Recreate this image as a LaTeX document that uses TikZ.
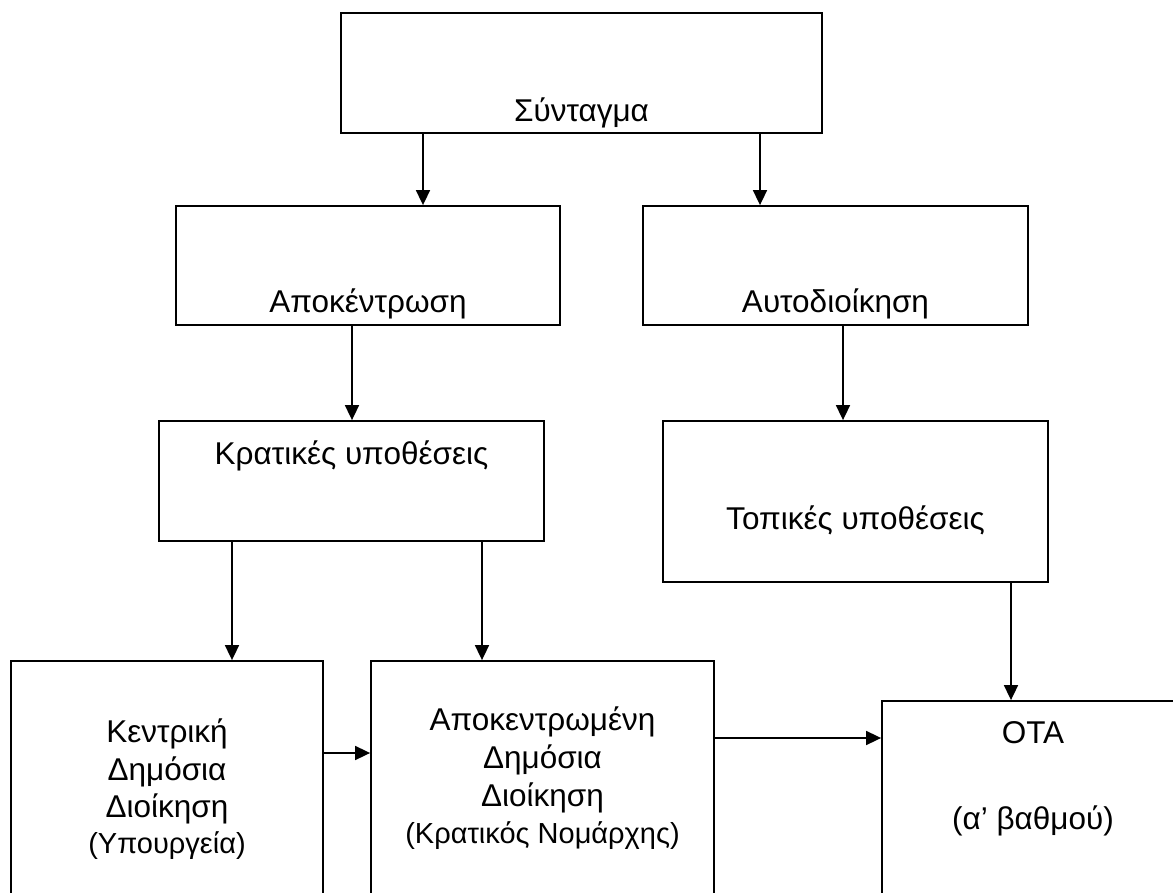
\documentclass[tikz,border=0pt]{standalone}
\usepackage{fontspec}
\setmainfont{Liberation Sans}
\usetikzlibrary{arrows.meta}
\newcommand\mainfs{\fontsize{31.5pt}{37pt}\selectfont}
\newcommand\smallfs{\fontsize{29pt}{34pt}\selectfont}
\tikzset{
  box/.style={draw, line width=1.8pt, rectangle, inner sep=0pt},
  lbl/.style={anchor=base, inner sep=0pt, font=\mainfs},
  lblsmall/.style={anchor=base, inner sep=0pt, font=\smallfs},
  arr/.style={-{Triangle[length=15pt,width=14pt]}, line width=1.7pt}
}
\begin{document}
\begin{tikzpicture}[x=1pt,y=-1pt]
\useasboundingbox (0,0) rectangle (1173,893);
\clip (0,0) rectangle (1173,893);
% boxes
\node[box, minimum width=481pt, minimum height=120pt] (syn) at (581.5,73) {};
\node[box, minimum width=384pt, minimum height=119pt] (apo) at (368,265.5) {};
\node[box, minimum width=385pt, minimum height=119pt] (auto) at (835.5,265.5) {};
\node[box, minimum width=385pt, minimum height=120pt] (krat) at (351.5,481) {};
\node[box, minimum width=385pt, minimum height=161pt] (topik) at (855.5,501.5) {};
\node[box, minimum width=312pt, minimum height=279pt] (kent) at (167,800.5) {};
\node[box, minimum width=343pt, minimum height=279pt] (apokm) at (542.5,800.5) {};
\node[box, minimum width=302pt, minimum height=239pt] (ota) at (1033,820.5) {};
% texts
\node[lbl] (tsyn) at (581.5,122) {Σύνταγμα};
\node[lbl] (tapo) at (368,313) {Αποκέντρωση};
\node[lbl] (tauto) at (835.5,313) {Αυτοδιοίκηση};
\node[lbl] (tkrat) at (351.5,464) {Κρατικές υποθέσεις};
\node[lbl] (ttop) at (855.5,529) {Τοπικές υποθέσεις};
\node[lbl] (tk1) at (167,742) {Κεντρική};
\node[lbl] (tk2) at (167,780) {Δημόσια};
\node[lbl] (tk3) at (167,817) {Διοίκηση};
\node[lblsmall] (tk4) at (167,853) {(Υπουργεία)};
\node[lbl] (ta1) at (542.5,730) {Αποκεντρωμένη};
\node[lbl] (ta2) at (542.5,768) {Δημόσια};
\node[lbl] (ta3) at (542.5,806) {Διοίκηση};
\node[lblsmall] (ta4) at (542.5,843) {(Κρατικός Νομάρχης)};
\node[lbl] (to1) at (1033,743) {ΟΤΑ};
\node[lbl] (to2) at (1033,829) {(α’ βαθμού)};
% helper coordinates
\coordinate (xa) at (423,0);
\coordinate (xb) at (760,0);
\coordinate (xc) at (352,0);
\coordinate (xd) at (843,0);
\coordinate (xe) at (232,0);
\coordinate (xf) at (482,0);
\coordinate (xg) at (1011,0);
\coordinate (ya) at (0,753);
\coordinate (yb) at (0,738);
% connectors
\draw[arr] (syn.south -| xa) -- (apo.north -| xa);
\draw[arr] (syn.south -| xb) -- (auto.north -| xb);
\draw[arr] (apo.south -| xc) -- (krat.north -| xc);
\draw[arr] (auto.south -| xd) -- (topik.north -| xd);
\draw[arr] (krat.south -| xe) -- (kent.north -| xe);
\draw[arr] (krat.south -| xf) -- (apokm.north -| xf);
\draw[arr] (topik.south -| xg) -- (ota.north -| xg);
\draw[arr] (kent.east |- ya) -- (apokm.west |- ya);
\draw[arr] (apokm.east |- yb) -- (ota.west |- yb);
\end{tikzpicture}
\end{document}
